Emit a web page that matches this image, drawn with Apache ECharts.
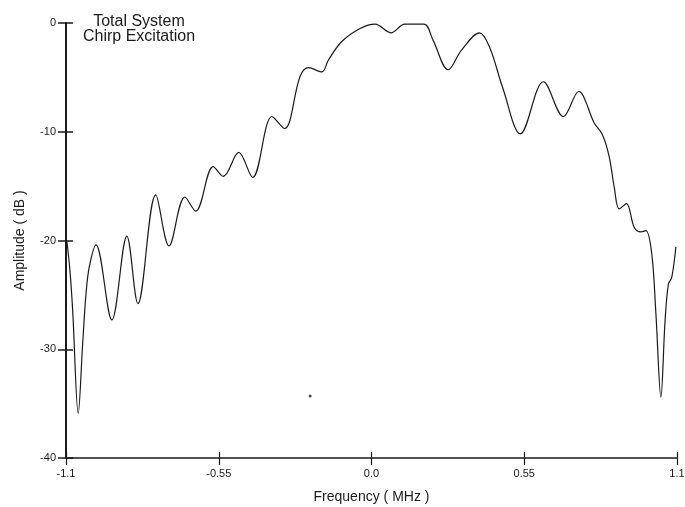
<!DOCTYPE html>
<html>
<head>
<meta charset="utf-8">
<script src="https://cdn.jsdelivr.net/npm/echarts@6/dist/echarts.min.js"></script>
<style>
  html, body { margin: 0; padding: 0; background: #fff; }
  #chart { width: 685px; height: 507px; }
</style>
</head>
<body>
<div id="chart"></div>
<script>
// frequency (MHz) and amplitude (dB)
var freq = [
  -1.097, -1.086, -1.076, -1.056, -1.040, -1.028, -1.016, -0.992,
  -0.935, -0.881, -0.841, -0.777, -0.729, -0.672, -0.633, -0.570,
  -0.534, -0.478, -0.428, -0.358, -0.313, -0.257, -0.227, -0.179,
  -0.155, -0.107, -0.041, 0.013, 0.070, 0.120, 0.189, 0.222,
  0.276, 0.324, 0.389, 0.425, 0.473, 0.536, 0.619, 0.691,
  0.746, 0.802, 0.832, 0.856, 0.874, 0.892, 0.918, 0.946,
  0.970, 0.988, 1.009, 1.024, 1.042, 1.057, 1.069, 1.081, 1.096
];
var amplitude = [
  -20.0, -22.7, -26.4, -35.9, -29.5, -24.9, -22.4, -20.4,
  -27.3, -19.6, -25.8, -15.8, -20.5, -16.0, -17.3, -13.2,
  -14.1, -11.9, -14.2, -8.6, -9.7, -4.9, -4.1, -4.5,
  -3.4, -1.7, -0.5, -0.1, -0.9, -0.1, -0.1, -1.6,
  -4.3, -2.5, -0.9, -2.2, -6.0, -10.2, -5.4, -8.6,
  -6.3, -9.2, -10.3, -12.3, -15.1, -17.1, -16.6, -18.8,
  -19.2, -19.1, -21.2, -26.7, -34.4, -27.4, -24.0, -23.4, -20.6
];
// stray speck on the original scan
var speck = [[-0.221, -34.3]];

var xTickLabels = ['-1.1', '-0.55', '0.0', '0.55', '1.1'];
var yTickLabels = ['-40', '-30', '-20', '-10', '0'];

var font = '"Liberation Sans", Arial, sans-serif';
var ink = '#1a1a1a';

var chart = echarts.init(document.getElementById('chart'));

var pairs = freq.map(function (f, i) { return [f, amplitude[i]]; });

var xCommon = {
  type: 'value', min: -1.1, max: 1.1, interval: 0.55,
  position: 'bottom',
  splitLine: { show: false }
};
var yCommon = {
  type: 'value', min: -40, max: 0, interval: 10,
  position: 'left',
  splitLine: { show: false }
};

chart.setOption({
  animation: false,
  backgroundColor: '#fff',
  title: {
    text: 'Total System\nChirp Excitation',
    left: 134, top: 9,
    textAlign: 'center',
    textStyle: { fontFamily: font, fontSize: 16, fontWeight: 'normal', color: ink, lineHeight: 15, align: 'center' }
  },
  grid: { left: 66, right: 8, top: 23, bottom: 49, containLabel: false, outerBoundsMode: 'none' },
  xAxis: [
    Object.assign({}, xCommon, {
      name: 'Frequency ( MHz )',
      nameLocation: 'middle', nameGap: 32,
      nameTextStyle: { fontFamily: font, fontSize: 14, color: ink },
      axisLine: { onZero: false, lineStyle: { color: ink, width: 1.5 } },
      axisTick: { length: 7, lineStyle: { color: ink, width: 1.2 } },
      axisLabel: {
        margin: 10, fontFamily: font, fontSize: 11, color: ink,
        formatter: function (v) { return xTickLabels[Math.round((v + 1.1) / 0.55)]; }
      }
    }),
    Object.assign({}, xCommon, {
      axisLine: { show: false, onZero: false },
      axisTick: { inside: true, length: 6, lineStyle: { color: ink, width: 1.2 } },
      axisLabel: { show: false }
    })
  ],
  yAxis: [
    Object.assign({}, yCommon, {
      name: 'Amplitude ( dB )',
      nameLocation: 'middle', nameGap: 39,
      nameTextStyle: { fontFamily: font, fontSize: 14, color: ink },
      axisLine: { onZero: false, lineStyle: { color: ink, width: 2 } },
      axisTick: { length: 8, lineStyle: { color: ink, width: 1.5 } },
      axisLabel: {
        margin: 10, fontFamily: font, fontSize: 11, color: ink,
        formatter: function (v) { return yTickLabels[Math.round((v + 40) / 10)]; }
      }
    }),
    Object.assign({}, yCommon, {
      axisLine: { show: false, onZero: false },
      axisTick: { inside: true, length: 7, lineStyle: { color: ink, width: 1.5 } },
      axisLabel: { show: false }
    })
  ],
  series: [
    {
      type: 'line',
      data: pairs,
      smooth: 0.35,
      showSymbol: false,
      lineStyle: { color: ink, width: 1.2 }
    },
    {
      type: 'scatter',
      data: speck,
      symbolSize: 3,
      itemStyle: { color: ink }
    }
  ]
});
</script>
</body>
</html>
